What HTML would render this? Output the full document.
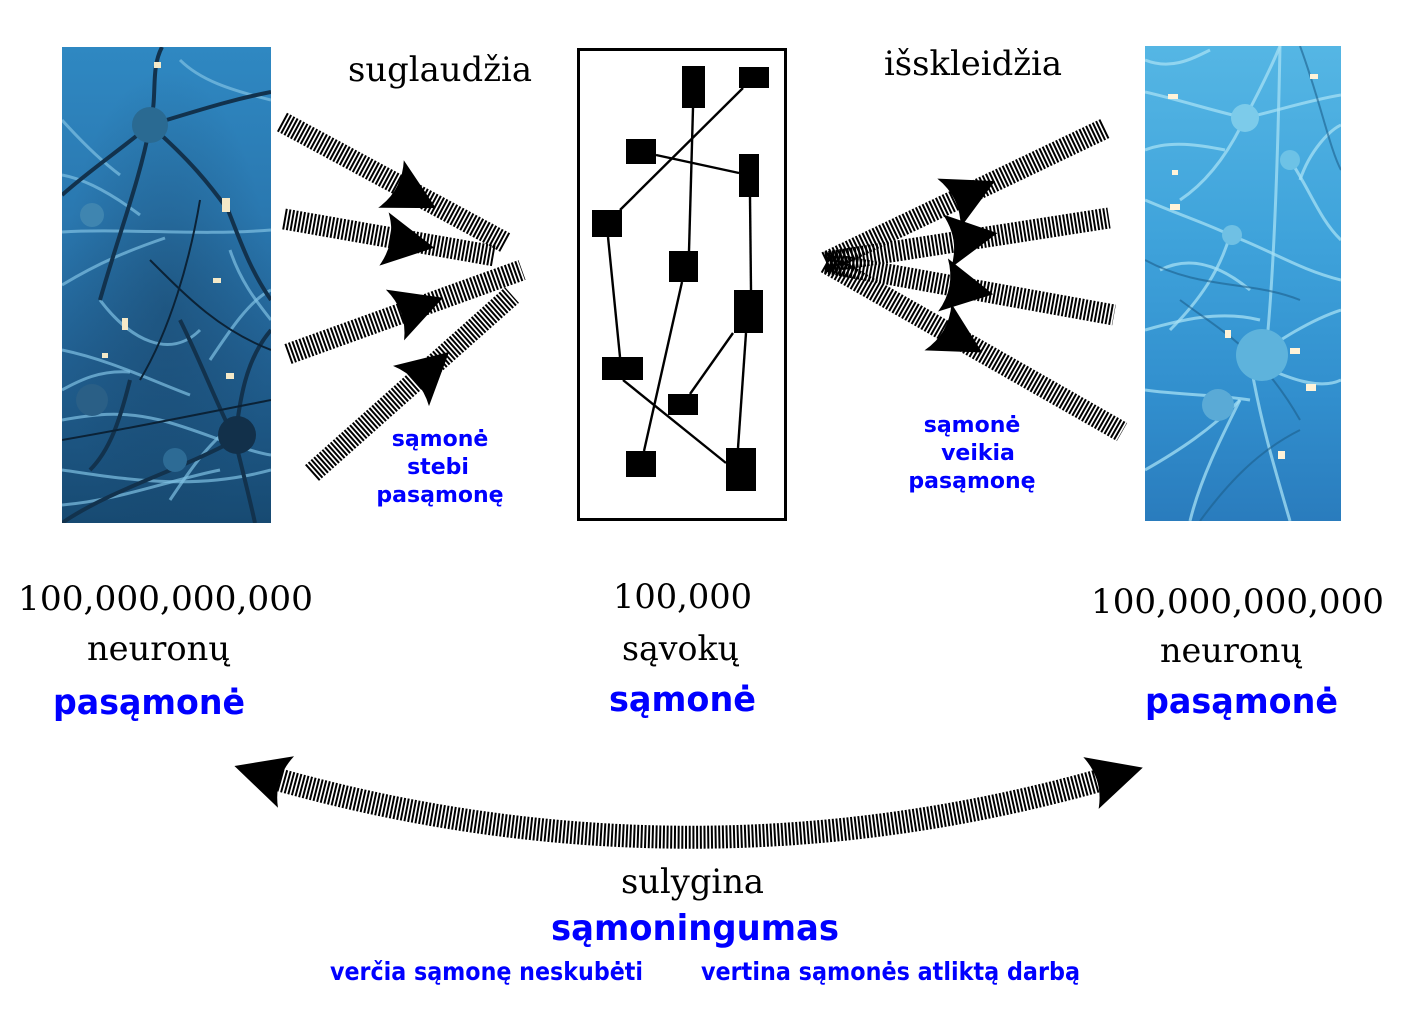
<!DOCTYPE html>
<html>
<head>
<meta charset="utf-8">
<style>
  html,body{margin:0;padding:0;background:#fff;}
  body{width:1427px;height:1019px;overflow:hidden;}
  svg{display:block;}
  .serif{font-family:"DejaVu Serif","Liberation Serif",serif;fill:#000;}
  .blue{font-family:"DejaVu Sans","Liberation Sans",sans-serif;font-weight:bold;fill:#0000ff;}
</style>
</head>
<body>
<svg width="1427" height="1019" viewBox="0 0 1427 1019" xmlns="http://www.w3.org/2000/svg">
  <defs>
    <linearGradient id="gL" x1="0" y1="0" x2="0" y2="1">
      <stop offset="0" stop-color="#2f88c2"/>
      <stop offset="0.35" stop-color="#2a78b0"/>
      <stop offset="0.65" stop-color="#215f90"/>
      <stop offset="1" stop-color="#174a72"/>
    </linearGradient>
    <radialGradient id="rL" cx="0.5" cy="0.55" r="0.5">
      <stop offset="0" stop-color="#163c5c" stop-opacity="0.4"/>
      <stop offset="1" stop-color="#163c5c" stop-opacity="0"/>
    </radialGradient>
    <linearGradient id="gR" x1="0" y1="0" x2="0" y2="1">
      <stop offset="0" stop-color="#55b6e4"/>
      <stop offset="0.4" stop-color="#3fa3db"/>
      <stop offset="0.75" stop-color="#318ecd"/>
      <stop offset="1" stop-color="#2a7cbd"/>
    </linearGradient>
    <clipPath id="cL"><rect x="62" y="47" width="209" height="476"/></clipPath>
    <clipPath id="cR"><rect x="1145" y="46" width="196" height="475"/></clipPath>
  </defs>

  <!-- LEFT NEURON IMAGE -->
  <g clip-path="url(#cL)">
    <rect x="62" y="47" width="209" height="476" fill="url(#gL)"/>
    <rect x="62" y="47" width="209" height="476" fill="url(#rL)"/>
    <g fill="none" stroke="#7fc0e2" stroke-opacity="0.7" stroke-width="3">
      <path d="M62,232 C120,228 200,236 271,230"/>
      <path d="M62,285 C100,262 130,250 165,238"/>
      <path d="M62,175 C90,180 120,200 140,215"/>
      <path d="M62,470 C120,478 190,492 271,470"/>
      <path d="M62,505 C120,500 170,480 220,470"/>
      <path d="M100,300 C130,340 170,360 200,330"/>
      <path d="M62,350 C110,360 150,380 190,395"/>
      <path d="M210,360 C230,330 250,300 271,290"/>
      <path d="M62,420 C90,415 120,410 160,420 C200,430 240,450 271,455"/>
      <path d="M170,500 C190,470 210,440 240,420"/>
      <path d="M62,120 C80,140 100,160 120,175"/>
      <path d="M180,60 C200,80 230,90 271,100"/>
      <path d="M230,250 C240,280 255,300 271,320"/>
      <path d="M62,390 C80,380 100,370 130,372"/>
    </g>
    <g fill="none" stroke="#12324d" stroke-width="4">
      <path d="M150,125 C190,160 210,185 228,210 C240,240 250,270 271,300"/>
      <path d="M150,125 C120,150 90,170 62,195"/>
      <path d="M150,125 C158,95 150,70 162,47"/>
      <path d="M150,125 C200,110 230,100 271,92"/>
      <path d="M150,125 C140,180 120,230 100,300"/>
      <path d="M62,523 C110,490 180,470 235,440"/>
      <path d="M235,440 C240,400 245,360 271,330"/>
      <path d="M235,440 C245,480 250,500 255,523"/>
      <path d="M130,380 C120,420 110,450 90,470"/>
      <path d="M180,320 C200,360 215,400 235,440"/>
    </g>
    <g fill="none" stroke="#0b2236" stroke-width="2">
      <path d="M200,200 C190,260 170,330 140,380"/>
      <path d="M62,440 C120,430 170,420 271,400"/>
      <path d="M150,260 C190,300 220,330 271,350"/>
    </g>
    <circle cx="150" cy="125" r="18" fill="#2a6a92"/>
    <circle cx="92" cy="215" r="12" fill="#3f85b0"/>
    <circle cx="92" cy="400" r="16" fill="#2a5f86"/>
    <circle cx="237" cy="435" r="19" fill="#12304a"/>
    <circle cx="175" cy="460" r="12" fill="#2d6b95"/>
    <g fill="#f4e9c8">
      <rect x="154" y="62" width="7" height="6"/>
      <rect x="222" y="198" width="8" height="14"/>
      <rect x="122" y="318" width="6" height="12"/>
      <rect x="226" y="373" width="8" height="6"/>
      <rect x="213" y="278" width="8" height="5"/>
      <rect x="102" y="353" width="6" height="5"/>
    </g>
  </g>

  <!-- RIGHT NEURON IMAGE -->
  <g clip-path="url(#cR)">
    <rect x="1145" y="46" width="196" height="475" fill="url(#gR)"/>
    <g fill="none" stroke="#a6e0f4" stroke-opacity="0.75" stroke-width="3">
      <path d="M1145,92 C1180,100 1210,110 1245,118"/>
      <path d="M1245,118 C1260,90 1270,70 1280,46"/>
      <path d="M1245,118 C1280,110 1310,100 1341,95"/>
      <path d="M1245,118 C1230,150 1210,180 1180,200"/>
      <path d="M1145,200 C1180,215 1210,225 1230,235"/>
      <path d="M1230,235 C1270,250 1300,270 1341,280"/>
      <path d="M1230,235 C1220,270 1200,300 1170,330"/>
      <path d="M1145,330 C1180,320 1220,310 1260,320"/>
      <path d="M1250,360 C1280,340 1310,320 1341,310"/>
      <path d="M1250,360 C1290,380 1320,390 1341,380"/>
      <path d="M1145,390 C1180,395 1220,395 1250,400"/>
      <path d="M1240,400 C1220,440 1200,480 1190,521"/>
      <path d="M1250,360 C1260,420 1275,470 1290,521"/>
      <path d="M1290,160 C1310,190 1320,220 1341,240"/>
      <path d="M1145,150 C1170,140 1200,145 1225,150"/>
      <path d="M1145,470 C1180,450 1210,430 1240,400"/>
      <path d="M1280,46 C1278,150 1275,250 1268,330"/>
      <path d="M1145,60 C1170,70 1190,60 1210,50"/>
      <path d="M1300,180 C1310,150 1330,130 1341,125"/>
      <path d="M1160,270 C1190,255 1220,265 1250,290"/>
    </g>
    <g fill="none" stroke="#1d5f8c" stroke-opacity="0.6" stroke-width="2">
      <path d="M1180,300 C1220,330 1260,350 1300,420"/>
      <path d="M1145,260 C1200,290 1250,280 1300,300"/>
      <path d="M1300,46 C1320,100 1330,150 1341,170"/>
      <path d="M1200,521 C1230,480 1260,450 1300,430"/>
    </g>
    <circle cx="1245" cy="118" r="14" fill="#7ccbea"/>
    <circle cx="1290" cy="160" r="10" fill="#6dc2e6"/>
    <circle cx="1232" cy="235" r="10" fill="#6fc0e4"/>
    <circle cx="1262" cy="355" r="26" fill="#5eb3dc"/>
    <circle cx="1218" cy="405" r="16" fill="#5aaad6"/>
    <g fill="#fff3d8">
      <rect x="1168" y="94" width="10" height="5"/>
      <rect x="1172" y="170" width="6" height="5"/>
      <rect x="1170" y="204" width="10" height="6"/>
      <rect x="1225" y="330" width="6" height="8"/>
      <rect x="1290" y="348" width="10" height="6"/>
      <rect x="1306" y="384" width="10" height="7"/>
      <rect x="1278" y="451" width="7" height="8"/>
      <rect x="1310" y="74" width="8" height="5"/>
    </g>
  </g>

  <!-- CENTER BOX -->
  <rect x="578.5" y="49.5" width="207" height="470" fill="none" stroke="#000" stroke-width="3"/>
  <g stroke="#000" stroke-width="2.4" fill="none">
    <line x1="693" y1="108" x2="689" y2="251"/>
    <line x1="743" y1="88" x2="620" y2="210"/>
    <line x1="656" y1="155" x2="739" y2="173"/>
    <line x1="750" y1="197" x2="751" y2="290"/>
    <line x1="608" y1="237" x2="620" y2="357"/>
    <line x1="682" y1="282" x2="644" y2="451"/>
    <line x1="733" y1="333" x2="690" y2="394"/>
    <line x1="746" y1="333" x2="738" y2="448"/>
    <line x1="623" y1="380" x2="726" y2="463"/>
  </g>
  <g fill="#000">
    <rect x="682" y="66" width="23" height="42"/>
    <rect x="739" y="67" width="30" height="21"/>
    <rect x="626" y="139" width="30" height="25"/>
    <rect x="739" y="154" width="20" height="43"/>
    <rect x="592" y="210" width="30" height="27"/>
    <rect x="669" y="251" width="29" height="31"/>
    <rect x="734" y="290" width="29" height="43"/>
    <rect x="602" y="357" width="41" height="23"/>
    <rect x="668" y="394" width="30" height="21"/>
    <rect x="626" y="451" width="30" height="26"/>
    <rect x="726" y="448" width="30" height="43"/>
  </g>

  <!-- HATCHED BANDS -->
  <g fill="none" stroke="#000" stroke-width="21" stroke-dasharray="2 1.7">
    <line x1="282" y1="122" x2="506" y2="243"/>
    <line x1="284" y1="219" x2="495" y2="256"/>
    <line x1="288" y1="354" x2="522" y2="270"/>
    <line x1="312" y1="473" x2="512" y2="295"/>
    <line x1="826" y1="262" x2="1106" y2="128"/>
    <line x1="826" y1="262" x2="1109" y2="218"/>
    <line x1="826" y1="263" x2="1114" y2="315"/>
    <line x1="826" y1="263" x2="1122" y2="432"/>
    <path d="M276,779 Q689,895 1101,780" stroke-width="23"/>
  </g>

  <!-- ARROWHEADS -->
  <g fill="#000">
    <path d="M51,0 L0,-27 Q13,0 0,27 Z" transform="translate(391,184) rotate(28.3)"/>
    <path d="M51,0 L0,-27 Q13,0 0,27 Z" transform="translate(384,239) rotate(9.9)"/>
    <path d="M51,0 L0,-27 Q13,0 0,27 Z" transform="translate(395,315) rotate(-19.7)"/>
    <path d="M51,0 L0,-27 Q13,0 0,27 Z" transform="translate(411,386) rotate(-41.8)"/>
    <path d="M51,0 L0,-27 Q13,0 0,27 Z" transform="translate(949,203) rotate(-25.6)"/>
    <path d="M51,0 L0,-27 Q13,0 0,27 Z" transform="translate(947,241) rotate(-8.9)"/>
    <path d="M51,0 L0,-27 Q13,0 0,27 Z" transform="translate(943,285) rotate(10.5)"/>
    <path d="M51,0 L0,-27 Q13,0 0,27 Z" transform="translate(938,327) rotate(30)"/>
    <path d="M54,0 L0,-27 Q13,0 0,27 Z" transform="translate(286,782) rotate(197.3)"/>
    <path d="M54,0 L0,-27 Q13,0 0,27 Z" transform="translate(1091,783) rotate(-16.5)"/>
  </g>

  <!-- TEXT -->
  <text class="serif" x="348" y="81" font-size="34" textLength="184" lengthAdjust="spacingAndGlyphs">suglaudžia</text>
  <text class="serif" x="884" y="75" font-size="34" textLength="178" lengthAdjust="spacingAndGlyphs">išskleidžia</text>

  <g class="blue" font-size="22" text-anchor="middle">
    <text x="440" y="446">sąmonė</text>
    <text x="438" y="474">stebi</text>
    <text x="440" y="502">pasąmonę</text>
    <text x="972" y="432">sąmonė</text>
    <text x="978" y="460">veikia</text>
    <text x="972" y="488">pasąmonę</text>
  </g>

  <text class="serif" x="18" y="610" font-size="34" textLength="295" lengthAdjust="spacingAndGlyphs">100,000,000,000</text>
  <text class="serif" x="87" y="660" font-size="34" textLength="143" lengthAdjust="spacingAndGlyphs">neuronų</text>
  <text class="blue" x="53" y="714" font-size="35" textLength="192" lengthAdjust="spacingAndGlyphs">pasąmonė</text>

  <text class="serif" x="613" y="608" font-size="34" textLength="139" lengthAdjust="spacingAndGlyphs">100,000</text>
  <text class="serif" x="622" y="660" font-size="34" textLength="117" lengthAdjust="spacingAndGlyphs">sąvokų</text>
  <text class="blue" x="609" y="711" font-size="35" textLength="147" lengthAdjust="spacingAndGlyphs">sąmonė</text>

  <text class="serif" x="1091" y="613" font-size="34" textLength="293" lengthAdjust="spacingAndGlyphs">100,000,000,000</text>
  <text class="serif" x="1160" y="662" font-size="34" textLength="142" lengthAdjust="spacingAndGlyphs">neuronų</text>
  <text class="blue" x="1145" y="713" font-size="35" textLength="193" lengthAdjust="spacingAndGlyphs">pasąmonė</text>

  <text class="serif" x="621" y="893" font-size="34" textLength="143" lengthAdjust="spacingAndGlyphs">sulygina</text>
  <text class="blue" x="551" y="940" font-size="36" textLength="288" lengthAdjust="spacingAndGlyphs">sąmoningumas</text>
  <text class="blue" x="330" y="980" font-size="25" textLength="313" lengthAdjust="spacingAndGlyphs">verčia sąmonę neskubėti</text>
  <text class="blue" x="701" y="980" font-size="25" textLength="379" lengthAdjust="spacingAndGlyphs">vertina sąmonės atliktą darbą</text>
</svg>
</body>
</html>
